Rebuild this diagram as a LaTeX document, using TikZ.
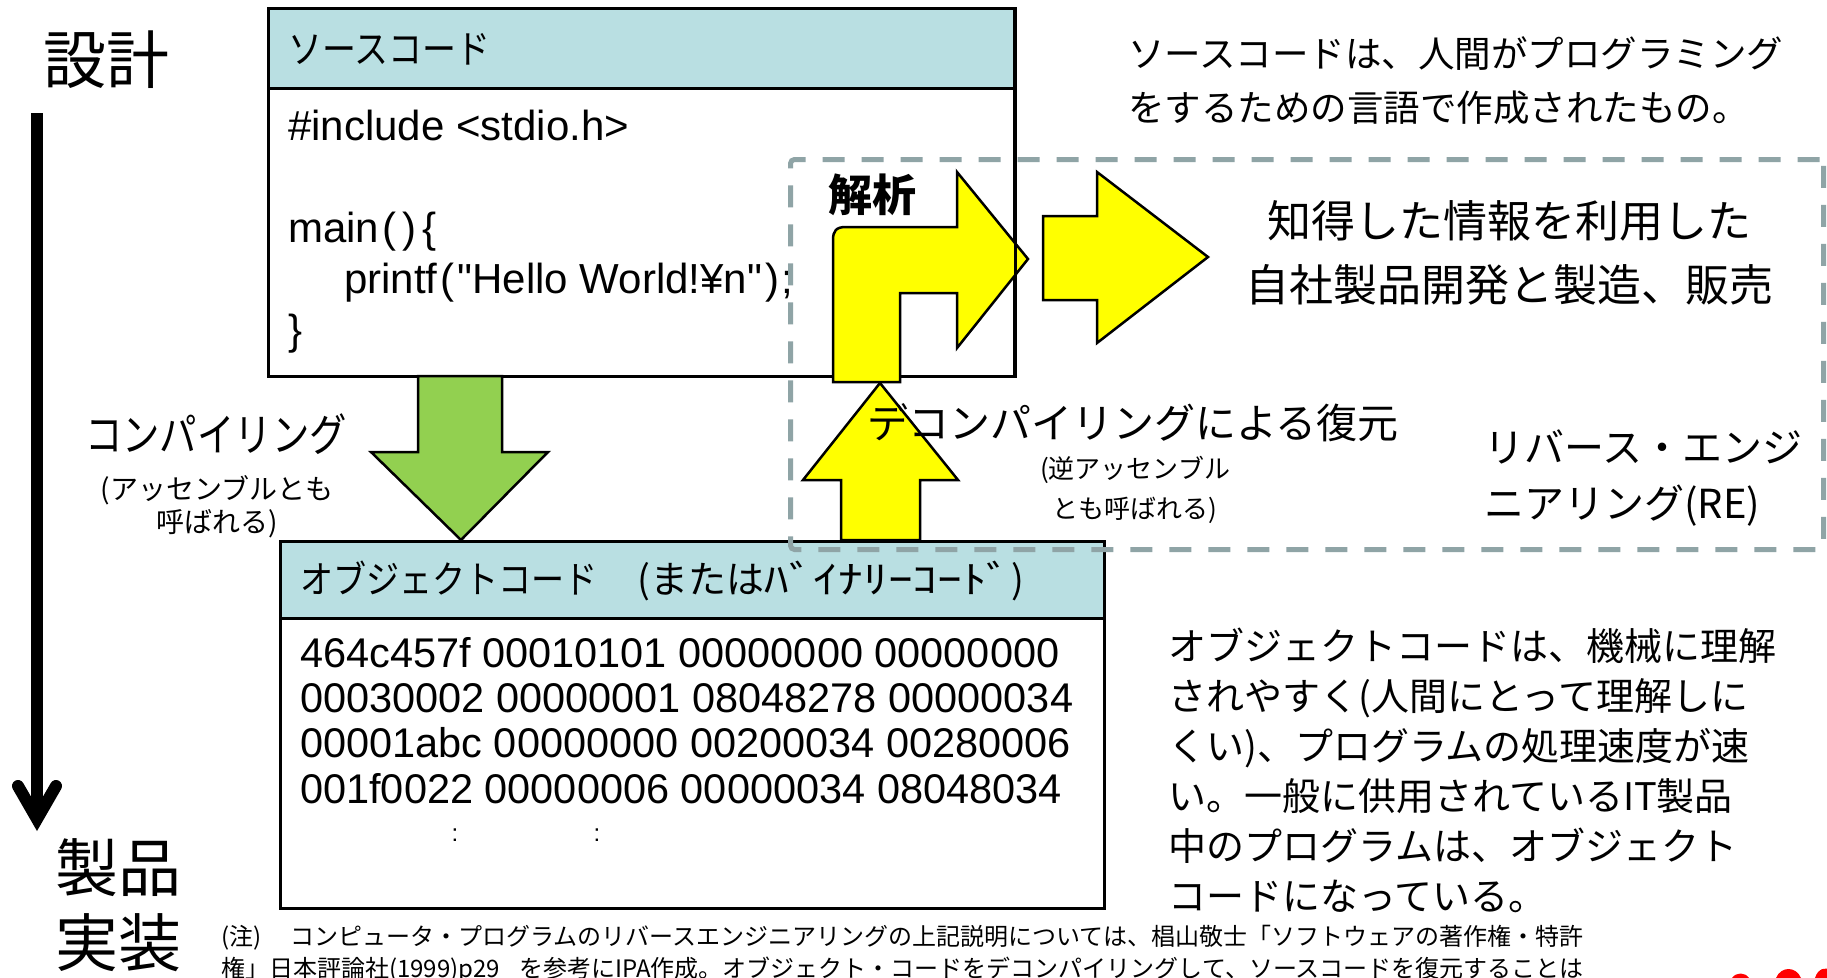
\documentclass[tikz,border=0pt]{standalone}
\usepackage{fontspec}
\usepackage{graphicx}
\setmainfont{Liberation Sans}
\newfontfamily\jp{Noto Sans CJK JP}
\font\codefnt="Liberation Sans" at 42pt
\definecolor{headblue}{RGB}{185,223,226}
\definecolor{arrowgreen}{RGB}{146,208,80}
\definecolor{dashgray}{RGB}{143,164,166}
\definecolor{arrowyellow}{RGB}{255,255,0}
\begin{document}
\begin{tikzpicture}[x=1pt,y=-1pt,
  boxbody/.style={draw=black, line width=2.5pt, fill=white, inner sep=0pt, anchor=north west},
  boxhead/.style={draw=black, line width=2.5pt, fill=headblue, inner sep=0pt, anchor=north west},
  yblock/.style={draw=black, line width=2.5pt, fill=arrowyellow, line join=miter},
  gblock/.style={draw=black, line width=2.5pt, fill=arrowgreen, line join=miter},
  lbl/.style={inner sep=0pt, text=black},
  jpl/.style={lbl, anchor=west},
  code/.style={lbl, anchor=base west},
  hex/.style={lbl, anchor=base west, font=\fontsize{41.5}{45}\selectfont},
  big/.style={lbl, font=\jp\fontsize{63}{63}\selectfont},
]
\useasboundingbox (0,0) rectangle (1827,977);
\clip (0,0) rectangle (1827,977);
\fill[white] (0,0) rectangle (1827,977);

% source code box
\node[boxbody, minimum width=746pt, minimum height=368pt] (srcbody) at (267,7) {};
\node[boxhead, minimum width=746pt, minimum height=80pt] (srchead) at (267,7) {};
\node[jpl, font=\jp\fontsize{39}{39}\selectfont] (srctitle) at (288,49) {\scalebox{0.87}[1]{ソースコード}};
\node[code] (inc) at (288,140) {\codefnt\#include <stdio.h>};
\node[code] (mainl) at (288,242) {\codefnt main\hspace{3pt}(\hspace{6pt})\hspace{6pt}\{};
\node[code] (printl) at (344,293) {\codefnt printf\hspace{3pt}(\hspace{3pt}"Hello World!¥n"\hspace{3pt})\hspace{3pt};};
\node[code] (closel) at (288,344) {\codefnt\}};

% object code box
\node[boxbody, minimum width=824pt, minimum height=367pt] (objbody) at (279,540) {};
\node[boxhead, minimum width=824pt, minimum height=77pt] (objhead) at (279,540) {};
\node[jpl, font=\jp\fontsize{38}{38}\selectfont] (objtitle) at (300,581) {\scalebox{0.87}[1]{オブジェクトコード}\hspace{40pt}(または\scalebox{1.3}[1]{ﾊﾞｲﾅﾘｰｺｰﾄﾞ})};
\node[hex] (h1) at (300,667) {464c457f 00010101 00000000 00000000};
\node[hex] (h2) at (300,712) {00030002 00000001 08048278 00000034};
\node[hex] (h3) at (300,757) {00001abc 00000000 00200034 00280006};
\node[hex] (h4) at (300,803) {001f0022 00000006 00000034 08048034};
\node[lbl, font=\fontsize{24}{24}\selectfont] (d1) at (455,835) {:};
\node[lbl, font=\fontsize{24}{24}\selectfont] (d2) at (597,835) {:};

% green compile arrow
\draw[gblock] (418,376) -- (418,452) -- (371,452) -- (461,540) -- (548,452) -- (502,452) -- (502,376) -- cycle;

% yellow decompile arrow (up)
\draw[yblock] (880,383) -- (958,480) -- (920,480) -- (920,540) -- (841,540) -- (841,480) -- (803,480) -- cycle;

% yellow L-shaped analysis arrow
\draw[yblock] (833,382) -- (833,240) .. controls (833,231) and (836,227) .. (846,227) -- (957,227) -- (957,172) -- (1028,259) -- (957,348) -- (957,293) -- (900,293) -- (900,382) -- cycle;
% source box right border visible over the arrow head
\draw[line width=2.5pt] (srcbody.north east) -- (srcbody.south east);

% second yellow arrow
\draw[yblock] (1043,216) -- (1097,216) -- (1097,172) -- (1208,257) -- (1097,343) -- (1097,300) -- (1043,300) -- cycle;

% dashed reverse-engineering region
\node[draw=dashgray, line width=5pt, dash pattern=on 22pt off 17pt, rounded corners=4pt, inner sep=0pt, anchor=north west, minimum width=1033pt, minimum height=390pt] (rebox) at (788,157) {};

% timeline arrow
\coordinate (tltop) at (37,113);
\coordinate (tltip) at (37,819);
\draw[line width=12pt] (tltop) -- (tltip);
\draw[line width=12pt, line cap=round, line join=miter, miter limit=10] (18,786) -- (tltip) -- (56,786);

% labels
\node[big] (sekkei) at (106,60) {設計};
\node[big] (seihin) at (118,868) {製品};
\node[big] (jisso) at (118,943) {実装};

\node[lbl, font=\jp\fontsize{45}{45}\selectfont] (compile) at (216,434) {\scalebox{0.83}[1]{コンパイリング}};
\node[lbl, align=center, font=\jp\fontsize{28}{33}\selectfont] (compnote) at (217,507) {(アッセンブルとも\\呼ばれる)};

\node[lbl, font=\jp\bfseries\fontsize{44}{44}\selectfont] (kaiseki) at (872,195) {解析};

\node[jpl, font=\jp\fontsize{41}{41}\selectfont] (decomp) at (867,423) {デコンパイリングによる復元};
\node[lbl, align=center, font=\jp\fontsize{26}{40}\selectfont] (decompnote) at (1135,490) {(逆アッセンブル\\とも呼ばれる)};

\node[lbl, align=left, anchor=north west, font=\jp\fontsize{40}{56}\selectfont] (re) at (1484,430) {リバース・エンジ\\ニアリング(RE)};

\node[lbl, align=left, anchor=north west, font=\jp\fontsize{36.5}{54}\selectfont] (srcdesc) at (1128,36) {ソースコードは、人間がプログラミング\\をするための言語で作成されたもの。};

\node[lbl, align=center, font=\jp\fontsize{44}{64}\selectfont] (use) at (1509,253) {知得した情報を利用した\\自社製品開発と製造、販売};

\node[lbl, align=left, anchor=north west, font=\jp\fontsize{38}{50}\selectfont] (objdesc) at (1168,628) {オブジェクトコードは、機械に理解\\されやすく(人間にとって理解しに\\くい)、プログラムの処理速度が速\\い。一般に供用されているIT製品\\中のプログラムは、オブジェクト\\コードになっている。};

\node[lbl, align=left, anchor=north west, font=\jp\fontsize{24}{32}\selectfont] (note) at (221,925) {(注)\hspace{1.2em}コンピュータ・プログラムのリバースエンジニアリングの上記説明については、椙山敬士「ソフトウェアの著作権・特許\\権」日本評論社(1999)p29\hspace{0.8em}を参考にIPA作成。オブジェクト・コードをデコンパイリングして、ソースコードを復元することは};

% red marks peeking in at the bottom edge
\fill[red] (1732,978) .. controls (1736,972) and (1745,972) .. (1749,978) -- cycle;
\fill[red] (1776,978) .. controls (1781,966) and (1796,966) .. (1801,978) -- cycle;
\fill[red] (1815,978) .. controls (1818,968) and (1826,967) .. (1830,970) -- (1830,978) -- cycle;
\end{tikzpicture}
\end{document}
